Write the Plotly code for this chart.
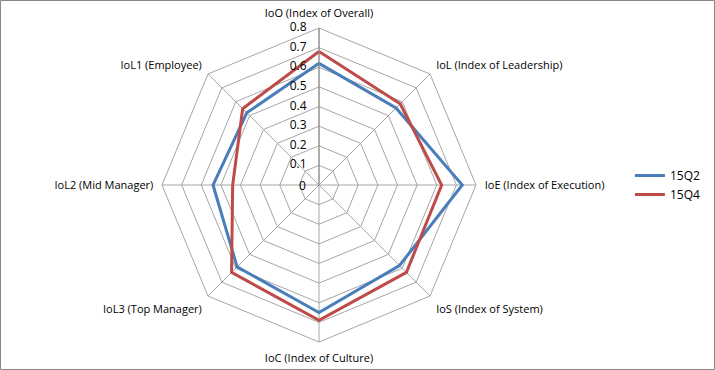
import plotly.graph_objects as go

categories = ["IoO (Index of Overall)", "IoL (Index of Leadership)", "IoE (Index of Execution)",
              "IoS (Index of System)", "IoC (Index of Culture)", "IoL3 (Top Manager)",
              "IoL2 (Mid Manager)", "IoL1 (Employee)"]
s15Q2 = [0.62, 0.555, 0.73, 0.58, 0.65, 0.59, 0.54, 0.52]
s15Q4 = [0.68, 0.585, 0.625, 0.63, 0.69, 0.63, 0.44, 0.55]
radial_ticks = [0, 0.1, 0.2, 0.3, 0.4, 0.5, 0.6, 0.7, 0.8]

fig = go.Figure()
fig.add_trace(go.Scatterpolar(r=s15Q2 + s15Q2[:1], theta=categories + categories[:1], mode="lines",
                              name="15Q2", line=dict(color="#4a7ebb", width=3)))
fig.add_trace(go.Scatterpolar(r=s15Q4 + s15Q4[:1], theta=categories + categories[:1], mode="lines",
                              name="15Q4", line=dict(color="#be4b48", width=3)))
# radial tick labels (non-zero), horizontal, to the left of the vertical axis (Excel style)
nz = [t for t in radial_ticks if t > 0]
fig.add_trace(go.Scatterpolar(r=nz, theta=[categories[0]] * len(nz), mode="text",
                              text=[f"{t:g}\u00a0\u00a0\u00a0\u00a0" for t in nz],
                              textposition="middle left",
                              textfont=dict(size=12, color="#000000"), showlegend=False,
                              hoverinfo="skip", cliponaxis=False))

W, H = 715, 370
cx, cy, R = 319, 185, 157
fig.update_layout(
    width=W, height=H,
    margin=dict(l=0, r=0, t=0, b=0),
    paper_bgcolor="white", plot_bgcolor="white",
    font=dict(family="Open Sans, Noto Sans, sans-serif", size=11, color="#000000"),
    polar=dict(
        domain=dict(x=[(cx - R) / W, (cx + R) / W], y=[(H - cy - R) / H, (H - cy + R) / H]),
        gridshape="linear",
        bgcolor="white",
        radialaxis=dict(range=[0, 0.8], tickvals=radial_ticks, showticklabels=False,
                        angle=90, showline=True, linecolor="#868686",
                        linewidth=1, gridcolor="#a6a6a6", gridwidth=1, ticks=""),
        angularaxis=dict(direction="clockwise", rotation=90, showline=True, linecolor="#a6a6a6",
                         gridcolor="#a6a6a6", ticks="outside", ticklen=6,
                         tickcolor="rgba(0,0,0,0)", tickfont=dict(size=11)),
    ),
    annotations=[dict(text=f"{radial_ticks[0]:g}", xref="paper", yref="paper",
                      x=(cx - 11) / W, y=1 - cy / H, xanchor="right", yanchor="middle",
                      showarrow=False, font=dict(size=12, color="#000000"))],
    legend=dict(x=0.881, y=0.5, xanchor="left", yanchor="middle", font=dict(size=12),
                tracegroupgap=8),
    shapes=[dict(type="rect", xref="paper", yref="paper", x0=0.0007, x1=0.9993, y0=0.0014, y1=0.9986,
                 line=dict(color="#868686", width=1))],
)
fig.write_html("out.html", config={"displayModeBar": False},
               post_script="document.body.style.margin='0';document.body.style.overflow='hidden';")
